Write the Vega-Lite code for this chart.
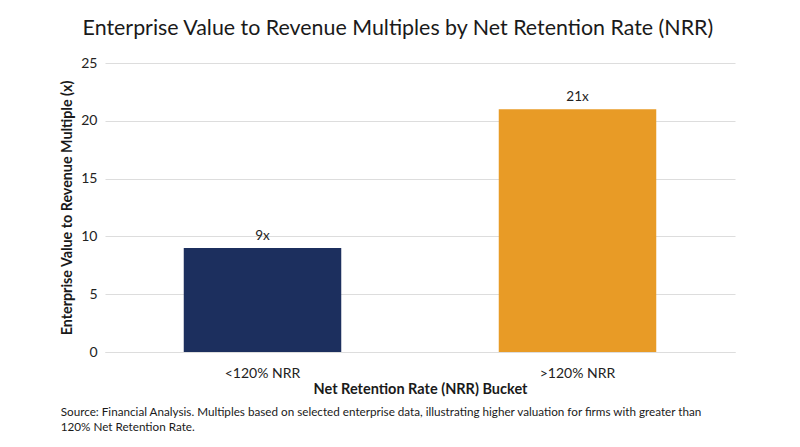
{
  "$schema": "https://vega.github.io/schema/vega-lite/v6.json",
  "background": "white",
  "padding": {"left": 60, "top": 17, "right": 10, "bottom": 5},
  "title": {
    "text": "Enterprise Value to Revenue Multiples by Net Retention Rate (NRR)",
    "font": "Lato",
    "fontSize": 21.4,
    "fontWeight": "normal",
    "color": "#1a1a1a",
    "anchor": "middle",
    "offset": 17
  },
  "data": {
    "values": [
      {"bucket": "<120% NRR", "multiple": 9, "label": "9x"},
      {"bucket": ">120% NRR", "multiple": 21, "label": "21x"}
    ]
  },
  "vconcat": [
    {
      "width": 630,
      "height": 289,
      "title": {
        "text": [
          "Source: Financial Analysis. Multiples based on selected enterprise data, illustrating higher valuation for firms with greater than",
          "120% Net Retention Rate."
        ],
        "orient": "bottom",
        "anchor": "start",
        "font": "Lato",
        "fontSize": 11.7,
        "fontWeight": "normal",
        "color": "#1a1a1a",
        "lineHeight": 15,
        "offset": 11
      },
      "encoding": {
        "x": {
          "field": "bucket",
          "type": "nominal",
          "sort": null,
          "scale": {"paddingInner": 0.5, "paddingOuter": 0.25},
          "axis": {
            "title": "Net Retention Rate (NRR) Bucket",
            "titleFont": "Lato",
            "titleFontSize": 14.5,
            "titleFontWeight": "bold",
            "titleColor": "#1a1a1a",
            "titlePadding": 2,
            "labelFont": "Lato",
            "labelFontSize": 14,
            "labelColor": "#222",
            "labelAngle": 0,
            "labelPadding": 14,
            "ticks": false,
            "domainColor": "#dddddd"
          }
        },
        "y": {
          "field": "multiple",
          "type": "quantitative",
          "scale": {"domain": [0, 25]},
          "axis": {
            "title": "Enterprise Value to Revenue Multiple (x)",
            "values": [0, 5, 10, 15, 20, 25],
            "titleFont": "Lato",
            "titleFontSize": 14.3,
            "titleFontWeight": "bold",
            "titleColor": "#1a1a1a",
            "titlePadding": 6,
            "labelFont": "Lato",
            "labelFontSize": 14,
            "labelColor": "#222",
            "labelPadding": 8,
            "ticks": false,
            "domain": false,
            "gridColor": "#dddddd",
            "gridWidth": 1
          }
        }
      },
      "layer": [
        {
          "mark": {"type": "bar"},
          "encoding": {
            "color": {
              "field": "bucket",
              "type": "nominal",
              "scale": {"domain": ["<120% NRR", ">120% NRR"], "range": ["#1c2f5e", "#e89b26"]},
              "legend": null
            }
          }
        },
        {
          "mark": {"type": "text", "baseline": "bottom", "dy": -5, "font": "Lato", "fontSize": 13.5, "color": "#222"},
          "encoding": {"text": {"field": "label"}}
        }
      ]
    }
  ],
  "config": {"view": {"stroke": null}}
}
